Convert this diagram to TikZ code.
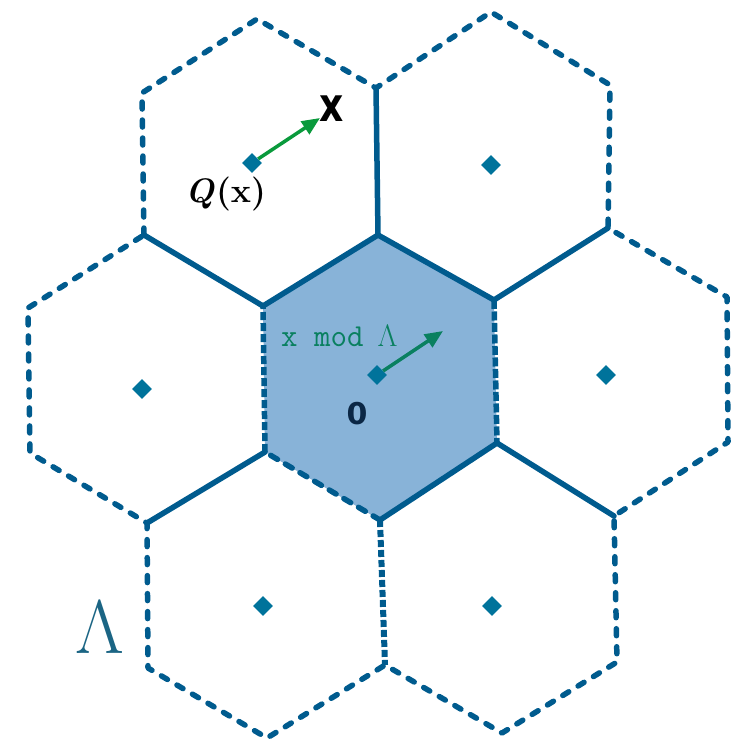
\documentclass[tikz,border=0pt]{standalone}
\usepackage{fontspec}
\newfontfamily\djv{DejaVu Sans}
\usetikzlibrary{arrows.meta}
\definecolor{hexline}{HTML}{005B8E}
\definecolor{hexfill}{HTML}{88B3D8}
\definecolor{dotc}{HTML}{00739B}
\definecolor{arrg}{HTML}{0A9A3C}
\definecolor{arrt}{HTML}{0A8060}
\definecolor{zeroc}{HTML}{0B2745}
\definecolor{lamc}{HTML}{1B6584}
\tikzset{
  edge/.style={draw=hexline, line width=5.5pt, line cap=round, line join=round},
  dsh/.style={edge, line width=5.5pt, dash pattern=on 7pt off 11pt},
  tight/.style={draw=hexline, line width=5.5pt, line cap=butt, dash pattern=on 9pt off 2.5pt},
  lattpt/.style={rectangle, rotate=45, fill=dotc, inner sep=0pt, minimum size=14pt},
  vec/.style={line width=3.5pt, -{Triangle[length=18pt,width=15pt]}},
}
\begin{document}
\begin{tikzpicture}[x=1pt,y=-1pt]
\useasboundingbox (0,0) rectangle (739,743);
% vertices of the central cell
\coordinate (C1) at (378,235);
\coordinate (C2) at (494,300);
\coordinate (C3) at (497,443);
\coordinate (C4) at (380,520);
\coordinate (C5) at (265,452);
\coordinate (C6) at (263,306);
% outer vertices
\coordinate (TLtop) at (257,19);
\coordinate (TLul) at (142,93);
\coordinate (Ltop) at (144,235);
\coordinate (TLur) at (376,88);
\coordinate (TRtop) at (491,12);
\coordinate (TRur) at (610,85);
\coordinate (Rtop) at (608,228);
\coordinate (Rur) at (727,297);
\coordinate (Rlr) at (728,442);
\coordinate (Rbot) at (614,516);
\coordinate (BRlr) at (617,662);
\coordinate (BRbot) at (502,733);
\coordinate (BRll) at (385,665);
\coordinate (BLbot) at (267,738);
\coordinate (BLll) at (148,668);
\coordinate (Lbot) at (147,523);
\coordinate (Lll) at (30,453);
\coordinate (Lul) at (28,308);
% central cell fill
\fill[hexfill] (C1) -- (C2) -- (C3) -- (C4) -- (C5) -- (C6) -- cycle;
% central cell boundary
\draw[edge] (C6) -- (C1);
\draw[edge] (C1) -- (C2);
\draw[tight] (C2) -- (C3);
\draw[edge] (C3) -- (C4);
\draw[dsh, dash pattern=on 8pt off 9pt] (C4) -- (C5);
\draw[tight, dash pattern=on 8pt off 3pt] (C5) -- (C6);
% spokes
\draw[edge] (C1) -- (TLur);
\draw[edge] (C6) -- (Ltop);
\draw[edge] (C2) -- (Rtop);
\draw[edge] (C3) -- (Rbot);
\draw[edge] (C5) -- (Lbot);
\draw[tight, line width=6pt, dash pattern=on 7pt off 3pt] (C4) -- (BRll);
% outer dashed boundary
\draw[dsh] (Ltop) -- (TLul) -- (TLtop) -- (TLur) -- (TRtop) -- (TRur) -- (Rtop)
  -- (Rur) -- (Rlr) -- (Rbot) -- (BRlr) -- (BRbot) -- (BRll) -- (BLbot)
  -- (BLll) -- (Lbot) -- (Lll) -- (Lul) -- (Ltop);
% lattice points
\node[lattpt] (d0) at (377,375) {};
\node[lattpt] (dTL) at (252,163) {};
\node[lattpt] (dTR) at (491,165) {};
\node[lattpt] (dL) at (142,389) {};
\node[lattpt] (dR) at (606,375) {};
\node[lattpt] (dBL) at (263,606) {};
\node[lattpt] (dBR) at (492,606) {};
% vectors
\coordinate (xpt) at (320,118);
\coordinate (mpt) at (443,331);
\draw[vec, arrg] (dTL) -- (xpt);
\draw[vec, arrt] (d0) -- (mpt);
% labels
\node[inner sep=0pt] (xlab) at (332,109) {\scalebox{0.8}[1]{\fontsize{47}{47}\selectfont\djv\bfseries x}};
\node[inner sep=0pt, anchor=base] (qlab) at (226,203) {\fontsize{34}{34}\selectfont{\bfseries\itshape Q}\hspace{1pt}{\bfseries(x)}};
\node[inner sep=0pt, anchor=base west, text=arrt] (modlab) at (281,346) {\fontsize{32}{32}\selectfont\ttfamily x mod\hspace{14pt}\fontsize{31}{31}\selectfont\rmfamily Λ};
\node[inner sep=0pt, anchor=base, text=zeroc] (zlab) at (357,424) {\fontsize{30}{30}\selectfont\djv\bfseries 0};
\node[inner sep=0pt, anchor=base, text=lamc] (lamlab) at (100,653) {\fontsize{76}{76}\selectfont Λ};
\end{tikzpicture}
\end{document}
